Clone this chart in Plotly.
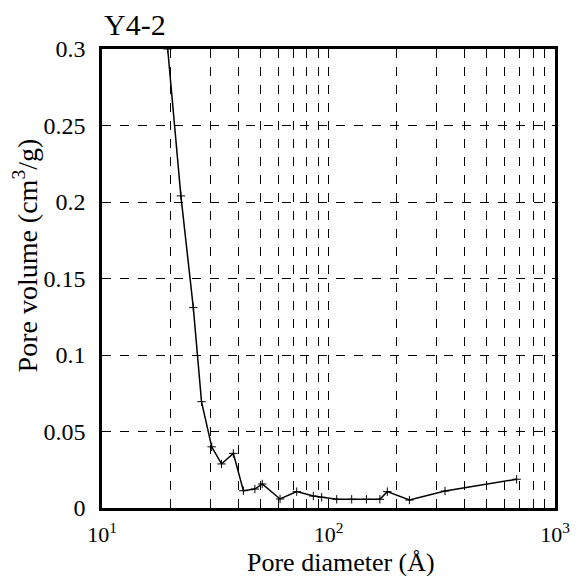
import plotly.graph_objects as go

diameter = [19.5, 22.3, 25.3, 27.5, 30.5, 33.7, 38.0, 42.1, 47.3, 51.0, 61.1, 72.4, 85.7, 93.3,
            108.7, 126.6, 147, 168.6, 181.8, 227.6, 326.9, 677]
volume = [0.300, 0.204, 0.131, 0.0695, 0.040, 0.0288, 0.0357, 0.0113, 0.0124, 0.0157, 0.0059,
          0.0107, 0.0078, 0.0070, 0.0057, 0.0057, 0.0057, 0.0057, 0.0107, 0.0052, 0.0111, 0.0188]

x_major = [10, 100, 1000]
x_major_text = ["10<sup>1</sup>", "10<sup>2</sup>", "10<sup>3</sup>"]
x_minor = [20, 30, 40, 50, 60, 70, 80, 90, 200, 300, 400, 500, 600, 700, 800, 900]
y_ticks = [0, 0.05, 0.1, 0.15, 0.2, 0.25, 0.3]
y_text = ["0", "0.05", "0.1", "0.15", "0.2", "0.25", "0.3"]

font = "Liberation Serif"
grid = dict(showgrid=True, gridcolor="black", griddash="dash", gridwidth=1)

fig = go.Figure()
fig.add_trace(go.Scatter(
    x=diameter, y=volume, mode="lines+markers",
    line=dict(color="black", width=1.5),
    marker=dict(symbol="cross-thin", size=6, line=dict(color="black", width=1)),
    showlegend=False,
))

fig.update_layout(
    width=583, height=576,
    margin=dict(l=102, r=28, t=49, b=68),
    paper_bgcolor="white", plot_bgcolor="white",
    font=dict(family=font, color="black", size=24),
    xaxis=dict(
        type="log", range=[1, 3],
        tickvals=x_major, ticktext=x_major_text,
        **grid,
        minor=dict(tickvals=x_minor, ticks="", **grid),
        showline=True, linecolor="black", linewidth=2.5, mirror=True,
        ticks="", zeroline=False, ticklabelstandoff=5,
        tickfont=dict(size=22),
    ),
    yaxis=dict(
        range=[0, 0.3],
        tickvals=y_ticks, ticktext=y_text,
        **grid,
        showline=True, linecolor="black", linewidth=2.5, mirror=True,
        ticks="", zeroline=False, ticklabelstandoff=9,
        tickfont=dict(size=24),
    ),
    annotations=[
        dict(text="Y4-2", xref="paper", yref="paper", x=0.0, y=1,
             xanchor="left", yanchor="bottom", yshift=6, showarrow=False,
             font=dict(family=font, size=30, color="black")),
        dict(text="Pore diameter (Å)", xref="paper", yref="paper", x=0.528, y=0,
             xanchor="center", yanchor="middle", yshift=-54, showarrow=False,
             font=dict(family=font, size=26, color="black")),
        dict(text="Pore volume (cm<sup>3</sup>/g)", xref="paper", yref="paper",
             x=-0.168, y=0.55, xanchor="center", yanchor="middle", textangle=-90,
             showarrow=False, font=dict(family=font, size=28, color="black")),
    ],
)

fig.write_html("out.html")
